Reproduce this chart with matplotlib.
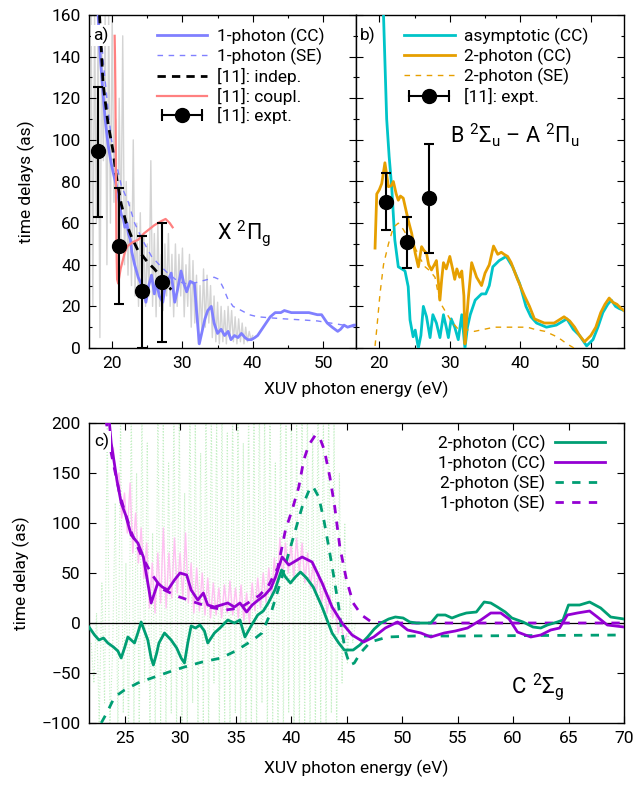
import numpy as np
import matplotlib
matplotlib.use("Agg")
import matplotlib.pyplot as plt
from matplotlib.lines import Line2D
from matplotlib.legend_handler import HandlerLine2D
from matplotlib.ticker import MultipleLocator

plt.rcParams['font.family'] = ['Roboto', 'DejaVu Sans']
plt.rcParams['font.size'] = 12.5
plt.rcParams['mathtext.fontset'] = 'custom'
plt.rcParams['mathtext.rm'] = 'Roboto'
plt.rcParams['mathtext.it'] = 'Roboto'

FS = 12.5

# ---------------- panel a data ----------------
a_raw_y = [160, 20, 160, 60, 160, 5, 150, 90, 160, 40, 160, 60, 160, 70, 110, 40,
           120, 50, 150, 40, 80, 35, 70, 30, 100, 25, 60, 20, 65, 15, 55, 20,
           50, 25, 90, 20, 55, 15, 60, 20, 45, 18, 50, 25, 55, 20, 45, 15,
           50, 20, 45, 25, 48, 15, 40, 20, 45, 10, 42, 12, 35, 2, 30, 8,
           38, 10, 35, 12, 30, 5, 25, 3, 22, 2, 20, 3, 18, 2, 20, 5,
           18, 3, 15, 2, 14, 3, 12, 2, 10, 3, 8, 4, 6]
a_raw_x = np.linspace(17.0, 40.0, len(a_raw_y))

a_cc_x = [18.0, 18.3, 18.7, 19.0, 19.4, 19.9, 20.3, 20.6, 21.0, 21.3, 21.6, 21.8, 22.1, 22.3,
          22.6, 22.8, 23.2, 23.7, 24.1, 24.4, 24.8, 25.2, 25.6, 26.0, 26.3, 26.7, 27.2, 27.6,
          28.0, 28.4, 28.9, 29.3, 29.8, 30.2, 30.6, 31.1, 31.7, 32.0, 32.4, 32.8, 33.2, 33.6,
          34.1, 34.5, 35.0, 35.5, 36.0, 36.5, 36.9, 37.4, 37.9, 38.4, 38.9, 39.3, 39.8, 40.3,
          40.7, 41.3, 41.9, 42.5, 43.2, 44.0, 44.5, 45.5, 46.9, 48.0, 49.2, 49.8, 50.6, 51.3,
          52.1, 52.5, 53.0, 53.5, 54.4, 54.7]
a_cc_y = [160, 140, 122, 110, 98, 88, 82, 78, 70, 64, 62, 58, 60, 55,
          52, 46, 40, 34, 31, 28, 22, 30, 35, 26, 32, 25, 22, 31,
          33, 36, 22, 28, 37, 31, 27, 32, 31, 18, 2, 8, 14, 18,
          20, 12, 7, 9, 6, 8, 4, 6, 5, 7, 5, 4, 4, 5,
          6, 9, 12, 15, 17, 17, 18, 17, 17, 17, 16, 16, 12, 10,
          8, 9, 11, 10, 11, 11]

a_se_x = [18.2, 18.8, 19.4, 19.9, 20.5, 21.3, 22.3, 23.2, 24.3, 25.6, 26.7, 27.9, 29.0, 30.2,
          31.5, 32.5, 33.7, 34.5, 35.2, 35.8, 36.4, 37.2, 38.4, 39.5, 40.7, 42.5, 44.5, 47.0,
          49.2, 52.0, 54.7]
a_se_y = [160, 135, 115, 100, 90, 78, 70, 60, 52, 44, 40, 36, 33, 31,
          31, 32, 33, 34, 33, 29, 24, 20, 18, 16, 15, 14.5, 14, 13.5,
          13, 11.5, 10]

a_indep_x = [18.2, 18.7, 19.4, 20.1, 20.7, 21.3, 22.0, 22.8, 23.65, 24.4, 25.1, 26.0, 27.0, 27.9, 28.4]
a_indep_y = [160, 127, 108, 95, 80, 69, 60, 53, 47, 44, 41, 38, 34, 30, 28]

a_coupl_x = [20.35, 20.4, 20.45, 20.5, 20.55, 20.6, 20.7, 20.85, 21.0, 21.2, 21.5, 21.8, 22.2,
             23.0, 23.7, 24.5, 26.0, 27.0, 27.6, 28.2, 28.6]
a_coupl_y = [150, 140, 125, 100, 75, 50, 33, 31, 34, 38, 42, 46, 49,
             51, 52, 55, 59, 61, 62, 60, 58]

a_exp_x = [18.0, 21.0, 24.2, 27.15]
a_exp_y = [94.5, 49, 27.5, 31.5]
a_exp_lo = [63, 21, 0, 3]
a_exp_hi = [125.5, 77, 54, 60]

# ---------------- panel b data ----------------
b_asym_x = [20.4, 20.6, 21.05, 21.4, 21.76, 22.2, 22.7, 23.2, 23.65, 24.1, 24.36, 24.8, 25.1,
            25.54, 25.9, 26.25, 26.7, 27.2, 27.6, 28.1, 28.6, 29.1, 29.5, 29.8, 30.2, 30.7, 31.2,
            31.7, 32.15, 32.5, 32.9, 33.6, 34.5, 35.1, 35.6, 36.1, 37.0, 38.0, 38.9, 39.9, 40.8,
            41.5, 42.3, 43.7, 45.1, 46.6, 47.5, 48.4, 49.4, 50.3, 51.0, 51.7, 52.4, 52.9, 53.5,
            54.0, 54.7]
b_asym_y = [175, 160, 110, 92, 77.5, 52, 39, 38, 37, 29.5, 13.5, 5.4, 8.6,
            0, 6, 20, 15, 5, 16, 12, 5, 16, 10, 5, 14, 10, 4,
            16, 0, 10, 16, 23, 26, 26, 30, 39, 42, 44, 39, 31, 20,
            15, 12, 10, 11, 14, 9, 6, 1, 4, 10, 17, 21, 23, 20,
            19, 18]

b_cc_x = [19.4, 19.64, 20.0, 20.35, 20.8, 21.3, 21.7, 22.0, 22.4, 22.7, 23.0, 23.4, 23.8, 24.1,
          24.6, 25.1, 25.54, 26.0, 26.3, 26.7, 27.0, 27.4, 27.8, 28.1, 28.35, 28.6, 28.85, 29.1,
          29.5, 30.0, 30.4, 30.7, 31.0, 31.4, 31.7, 32.0, 32.15, 32.35, 32.6, 33.1, 33.8, 34.5,
          35.0, 35.6, 36.2, 36.8, 37.3, 37.7, 38.2, 38.7, 39.6, 40.6, 41.3, 42.0, 42.7, 43.4,
          44.8, 46.2, 47.0, 47.7, 48.4, 49.1, 50.0, 50.7, 51.4, 52.0, 52.6, 53.1, 53.7, 54.3,
          54.7]
b_cc_y = [48, 74, 76, 79, 89, 77.5, 78, 80, 74, 71, 73, 72, 66, 61.5,
          55, 45.5, 39, 48.7, 47, 45.5, 40, 37.5, 40, 42, 33, 23, 33, 41,
          38, 44, 38, 33, 38, 34, 37, 25, 2, 12, 23, 41, 34, 30,
          36, 40, 49, 45, 46, 45, 44, 41, 33, 25, 20, 14, 13, 12,
          12, 15, 13, 10, 6, 3, 6, 10, 17, 21, 24, 22, 21, 19,
          18]

b_se_x = [19.4, 19.64, 20.1, 20.6, 21.3, 22.0, 22.7, 23.4, 24.1, 25.1, 25.8, 26.5, 27.2, 27.9,
          28.6, 29.3, 30.2, 31.2, 32.1, 33.5, 36.3, 39.1, 41.0, 42.0, 43.5, 44.8, 45.8, 46.6,
          47.6]
b_se_y = [1, 9, 26, 40, 50, 58, 60, 57, 53, 48, 43, 39, 37, 34,
          22, 18, 13, 9, 9, 8, 10, 10, 10, 9, 8, 6, 4, 2,
          0]

b_exp_x = [20.9, 24.0, 27.05]
b_exp_y = [70.3, 51, 72]
b_exp_lo = [56.7, 38.6, 45.5]
b_exp_hi = [84, 63, 98]

# ---------------- panel c data ----------------
c_raw2_y = [-20, -60, 10, -100, 40, -80, 200, -100, -30, 120, -110, 210, -90, 60, -110, 220,
            -100, 150, -110, 210, -60, 180, -110, 90, -110, 220, -100, 200, -110, 160, -90, 220,
            -110, 210, -100, 130, -110, 220, -80, 200, -110, 170, -100, 220, -110, 210, -60, 200,
            -110, 220, -100, 190, -110, 220, -90, 210, -110, 180, -100, 220, -110, 200, -110, 220,
            -80, 210, -110, 220, -100, 160, -110, 220, -110, 210, -90, 220, -110, 200, -110, 220,
            -100, 220, -110, 190, -110, 220, -100, 210, -110, 220, -90, 200, -110, 150, -60, 100,
            -40, 30, -20, 0]
c_raw2_x = np.linspace(22.0, 45.8, len(c_raw2_y))

c_raw1_y = [175, 140, 150, 105, 130, 90, 140, 70, 110, 60, 95, 45, 80, 15, 60, 10,
            70, 20, 95, 15, 70, 25, 85, 30, 70, 25, 90, 20, 60, 10, 55, 12,
            50, 8, 45, 5, 40, 8, 35, 5, 38, 10, 42, 8, 35, 5, 38, 2,
            30, 0, 40, 12, 45, 15, 50, 20, 55, 25, 65, 30, 85, 45, 80, 50,
            80, 45, 85, 50, 80, 40, 70, 35, 60, 28, 50, 20, 40, 10, 28, 5,
            15, -10, 5, -20, -12]
c_raw1_x = np.linspace(24.0, 45.0, len(c_raw1_y))

c_cc2_x = [21.8, 22.3, 22.7, 23.1, 23.5, 24.0, 24.4, 24.7, 25.0, 25.3, 25.6, 25.9, 26.2, 26.5,
           26.8, 27.1, 27.4, 27.6, 27.9, 28.1, 28.6, 29.2, 29.7, 30.1, 30.4, 30.7, 31.0, 31.4,
           31.8, 32.2, 32.5, 33.1, 33.6, 34.3, 34.9, 35.4, 35.85, 36.4, 37.0, 37.5, 37.95, 38.55,
           39.15, 39.5, 39.95, 40.4, 40.85, 41.4, 42.0, 42.8, 43.7, 44.3, 44.8, 45.6, 46.2, 46.9,
           47.5, 48.1, 48.8, 49.4, 50.1, 50.7, 51.3, 52.0, 52.6, 53.2, 53.9, 54.5, 55.2, 55.8,
           56.7, 57.4, 58.0, 58.6, 59.3, 59.9, 60.9, 61.8, 62.5, 63.1, 64.0, 64.5, 65.0, 66.0,
           66.9, 67.9, 68.8, 70.0]
c_cc2_y = [-4, -12, -17, -15, -20, -24, -28, -35, -25, -14, -17, -20, -10, 1,
           -8, -17, -35, -42, -30, -20, -10, -17, -25, -35, -40, -20, -3, -5,
           -2, -8, -20, -10, -5, 3, 0, 3, -14, -3, 8, 12, 20, 33,
           53, 46, 40, 46, 51, 45, 36, 16, -10, -20, -27, -27, -22, -14,
           -6, 0, 4, 6, 5, 1, 0, 0, 0, 8, 8, 5, 8, 10,
           11, 21, 20, 16, 11, 5, 1, -4, -5, -2, 1, 3, 18, 18,
           21, 15, 6, 4]

c_cc1_x = [23.6, 23.8, 24.3, 24.7, 25.1, 25.6, 26.2, 26.7, 27.1, 27.4, 27.7, 28.0, 28.4, 28.9,
           29.5, 30.0, 30.6, 31.0, 31.6, 32.1, 32.5, 33.1, 33.7, 34.3, 34.9, 35.4, 36.0, 36.5,
           37.05, 37.65, 38.2, 38.6, 39.2, 39.8, 40.4, 41.0, 41.9, 42.8, 43.7, 44.6, 45.5, 46.55,
           47.45, 48.5, 49.6, 50.5, 51.7, 52.6, 53.8, 54.8, 55.9, 57.1, 58.0, 58.9, 59.65, 60.4,
           61.6, 62.5, 63.4, 64.2, 64.9, 65.8, 66.9, 67.6, 68.5, 70.0]
c_cc1_y = [205, 180, 144, 120, 108, 88, 80, 66, 40, 20, 30, 40, 36, 33,
           43, 50, 48, 33, 23, 30, 18, 16, 18, 20, 16, 20, 11, 18,
           23, 28, 35, 46, 66, 58, 62, 66, 61, 40, 16, 0, -12, -19,
           -14, -5, 1, -7, -10, -14, -10, -8, -5, 3, 10, 10, 4, -9,
           -14, -12, -7, -5, 8, 10, 12, 6, -2, -4]

c_se2_x = [22.9, 23.4, 24.1, 25.0, 26.2, 27.7, 29.0, 30.4, 32.0, 33.7, 35.0, 36.15, 36.8,
           37.38, 38.28, 39.19, 39.8, 40.4, 41.0, 41.75, 42.0, 42.5, 42.96, 43.4, 43.86, 44.3,
           44.6, 44.95, 45.3, 45.7, 46.25, 47.15, 48.7, 51.1, 55.0, 70.0]
c_se2_y = [-100, -90, -74, -67, -60, -54, -49, -44, -39, -35, -28, -20, -15,
           -10, 13, 46, 70, 93, 116, 136, 136, 126, 103, 76, 46, 16,
           -10, -30, -42, -40, -30, -19, -14, -13, -13, -12]

c_se1_x = [23.3, 23.8, 24.6, 25.6, 26.5, 27.5, 28.4, 29.7, 31.0, 32.6, 34.1, 35.4, 36.4, 37.2,
           38.0, 38.8, 39.5, 40.1, 40.7, 41.15, 41.6, 42.2, 42.6, 43.0, 43.5, 43.94, 44.4, 45.0,
           45.6, 46.35, 47.25, 49.0, 55.0, 70.0]
c_se1_y = [205, 170, 127, 91, 68, 48, 34, 27, 22, 16, 13, 15, 22, 28,
           38, 55, 93, 113, 136, 163, 178, 188, 185, 173, 146, 116, 76, 43,
           20, 8, 1, 0, 0, 0]

# ---------------- figure ----------------
W, H = 642, 787
fig = plt.figure(figsize=(W / 100, H / 100), dpi=100)

def rect(l, t, r, b):
    return [l / W, 1 - b / H, (r - l) / W, (b - t) / H]

axa = fig.add_axes(rect(89, 15, 356, 348))
axb = fig.add_axes(rect(356, 15, 624, 348))
axc = fig.add_axes(rect(89, 423, 624, 723))

BLUE = '#8080ff'
RED = '#ff8080'
CYAN = '#00c4c8'
ORANGE = '#e69f00'
PURPLE = '#9400d3'
GREEN = '#009e73'


def style(ax):
    ax.tick_params(which='both', direction='in', top=True, right=True, labelsize=FS, pad=6)
    ax.tick_params(which='major', length=5, width=0.8)
    ax.tick_params(which='minor', length=2.5, width=0.8)
    for s in ax.spines.values():
        s.set_linewidth(1.0)


def expt_handles():
    caps = Line2D([], [], color='black', lw=1.5, marker='|', markersize=9, markeredgewidth=1.5)
    dot = Line2D([], [], color='black', lw=0, marker='o', markersize=10)
    return (caps, dot), {caps: HandlerLine2D(numpoints=2), dot: HandlerLine2D(numpoints=1)}


LEG = dict(frameon=False, borderpad=0, borderaxespad=0, handlelength=2.9, handletextpad=0.55,
           labelspacing=0.16, fontsize=FS)

# panel a
axa.plot(a_raw_x, a_raw_y, color='#d4d4d4', lw=1.0, zorder=1)
l1, = axa.plot(a_cc_x, a_cc_y, color=BLUE, lw=2, zorder=3)
l2, = axa.plot(a_se_x, a_se_y, color=BLUE, lw=1, dashes=(4, 4), zorder=3)
l3, = axa.plot(a_indep_x, a_indep_y, color='black', lw=2, dashes=(3, 2.2), zorder=4)
l4, = axa.plot(a_coupl_x, a_coupl_y, color=RED, lw=1.6, zorder=4)
a_err = [np.array(a_exp_y) - np.array(a_exp_lo), np.array(a_exp_hi) - np.array(a_exp_y)]
axa.errorbar(a_exp_x, a_exp_y, yerr=a_err, fmt='o', color='black', ms=10, capsize=3.5,
             elinewidth=1.5, capthick=1.5, zorder=5)
eh, hmap = expt_handles()
axa.legend([l1, l2, l3, l4, eh], ['1-photon (CC)', '1-photon (SE)', '[11]: indep.', '[11]: coupl.',
           '[11]: expt.'], handler_map=hmap, loc='upper left', bbox_to_anchor=(0.255, 0.962), **LEG)
axa.set_xlim(16.7, 54.7)
axa.set_ylim(0, 160)
axa.xaxis.set_major_locator(MultipleLocator(10))
axa.xaxis.set_minor_locator(MultipleLocator(5))
axa.yaxis.set_major_locator(MultipleLocator(20))
axa.yaxis.set_minor_locator(MultipleLocator(10))
style(axa)
axa.set_ylabel('time delays (as)', fontsize=FS, labelpad=12)
axa.text(0.015, 0.965, 'a)', transform=axa.transAxes, va='top', ha='left', fontsize=FS,
         bbox=dict(fc='white', ec='none', pad=1.5), zorder=10)
axa.text(38.7, 55, r'$\mathregular{X\ ^2\Pi_g}$', fontsize=15.5, ha='center', va='center')

# panel b
lb1, = axb.plot(b_asym_x, b_asym_y, color=CYAN, lw=2, zorder=3)
lb2, = axb.plot(b_cc_x, b_cc_y, color=ORANGE, lw=2, zorder=3)
lb3, = axb.plot(b_se_x, b_se_y, color=ORANGE, lw=1, dashes=(4, 4), zorder=3)
b_err = [np.array(b_exp_y) - np.array(b_exp_lo), np.array(b_exp_hi) - np.array(b_exp_y)]
axb.errorbar(b_exp_x, b_exp_y, yerr=b_err, fmt='o', color='black', ms=10, capsize=3.5,
             elinewidth=1.5, capthick=1.5, zorder=5)
eh2, hmap2 = expt_handles()
axb.legend([lb1, lb2, lb3, eh2], ['asymptotic (CC)', '2-photon (CC)', '2-photon (SE)', '[11]: expt.'],
           handler_map=hmap2, loc='upper left', bbox_to_anchor=(0.18, 0.962), **LEG)
axb.set_xlim(16.7, 54.7)
axb.set_ylim(0, 160)
axb.xaxis.set_major_locator(MultipleLocator(10))
axb.xaxis.set_minor_locator(MultipleLocator(5))
axb.yaxis.set_major_locator(MultipleLocator(20))
axb.yaxis.set_minor_locator(MultipleLocator(10))
axb.set_yticklabels([])
style(axb)
axb.text(0.015, 0.965, 'b)', transform=axb.transAxes, va='top', ha='left', fontsize=FS,
         bbox=dict(fc='white', ec='none', pad=1.5), zorder=10)
axb.text(39.2, 102, r'$\mathregular{B\ ^2\Sigma_u}$ – $\mathregular{A\ ^2\Pi_u}$', fontsize=15.5,
         ha='center', va='center')

fig.text((89 + 624) / 2 / W, 1 - 389 / H, 'XUV photon energy (eV)', ha='center', va='center',
         fontsize=FS)

# panel c
axc.plot(c_raw2_x, c_raw2_y, color='#c4efc4', lw=0.8, ls=':', zorder=1)
axc.plot(c_raw1_x, c_raw1_y, color='#ffc0f2', lw=1.0, zorder=2)
axc.axhline(0, color='black', lw=0.9, zorder=2)
lc1, = axc.plot(c_cc2_x, c_cc2_y, color=GREEN, lw=2, zorder=4)
lc2, = axc.plot(c_cc1_x, c_cc1_y, color=PURPLE, lw=2, zorder=4)
lc3, = axc.plot(c_se2_x, c_se2_y, color=GREEN, lw=2, dashes=(3, 3), zorder=3)
lc4, = axc.plot(c_se1_x, c_se1_y, color=PURPLE, lw=2, dashes=(3, 3), zorder=3)
axc.legend([lc1, lc2, lc3, lc4], ['2-photon (CC)', '1-photon (CC)', '2-photon (SE)', '1-photon (SE)'],
           loc='upper right', bbox_to_anchor=(0.965, 0.96), markerfirst=False, **LEG)
axc.set_xlim(21.8, 70)
axc.set_ylim(-100, 200)
axc.xaxis.set_major_locator(MultipleLocator(5))
axc.yaxis.set_major_locator(MultipleLocator(50))
style(axc)
axc.set_xlabel('XUV photon energy (eV)', fontsize=FS, labelpad=10)
axc.set_ylabel('time delay (as)', fontsize=FS, labelpad=8)
axc.text(0.01, 0.968, 'c)', transform=axc.transAxes, va='top', ha='left', fontsize=FS,
         bbox=dict(fc='white', ec='none', pad=1.5), zorder=10)
axc.text(62.2, -64, r'$\mathregular{C\ ^2\Sigma_g}$', fontsize=16, ha='center', va='center')

fig.savefig('out.png', dpi=100)
